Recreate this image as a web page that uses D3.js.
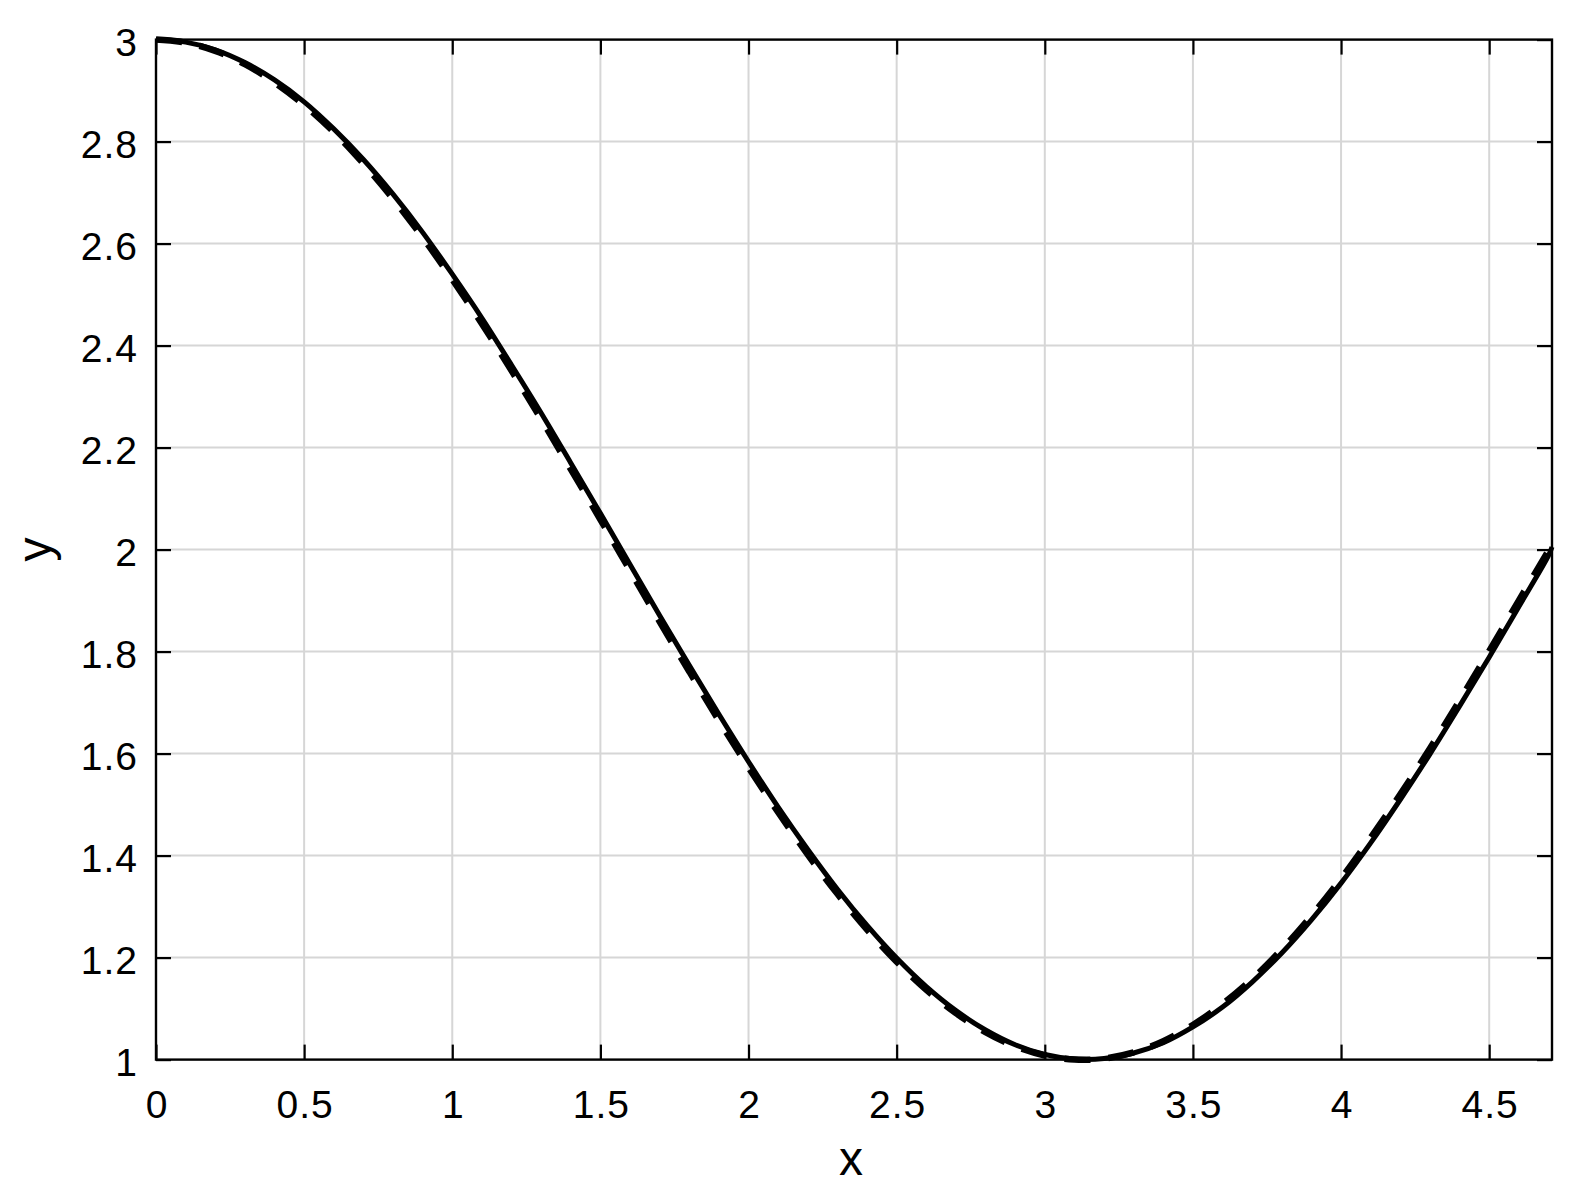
<!DOCTYPE html>
<html>
<head>
<meta charset="utf-8">
<script src="https://cdn.jsdelivr.net/npm/d3@7"></script>
<style>
  html, body { margin: 0; padding: 0; background: #fff; }
  svg { display: block; }
  text { font-family: "Liberation Sans", Arial, Helvetica, sans-serif; fill: #000; }
</style>
</head>
<body>
<svg id="chart" width="1572" height="1196"></svg>
<script>
// ---- data ----
const xValues = [0, 0.1, 0.2, 0.3, 0.4, 0.5, 0.6, 0.7, 0.8, 0.9,
  1.0, 1.1, 1.2, 1.3, 1.4, 1.5, 1.6, 1.7, 1.8, 1.9,
  2.0, 2.1, 2.2, 2.3, 2.4, 2.5, 2.6, 2.7, 2.8, 2.9,
  3.0, 3.1, 3.2, 3.3, 3.4, 3.5, 3.6, 3.7, 3.8, 3.9,
  4.0, 4.1, 4.2, 4.3, 4.4, 4.5, 4.6, 4.7, 4.712];

const solidY = [3.000, 2.995, 2.980, 2.955, 2.921, 2.878, 2.825, 2.765, 2.697, 2.622,
  2.540, 2.454, 2.362, 2.268, 2.170, 2.071, 1.971, 1.871, 1.773, 1.677,
  1.584, 1.495, 1.412, 1.334, 1.263, 1.199, 1.143, 1.096, 1.058, 1.029,
  1.010, 1.001, 1.002, 1.013, 1.033, 1.064, 1.103, 1.152, 1.209, 1.274,
  1.346, 1.425, 1.510, 1.599, 1.693, 1.789, 1.888, 1.988, 2.005];

const dashedY = [3.000, 2.994, 2.978, 2.952, 2.916, 2.872, 2.819, 2.757, 2.688, 2.612,
  2.530, 2.443, 2.351, 2.256, 2.158, 2.059, 1.959, 1.859, 1.761, 1.665,
  1.573, 1.485, 1.402, 1.325, 1.255, 1.192, 1.137, 1.091, 1.054, 1.026,
  1.008, 1.000, 1.002, 1.014, 1.036, 1.068, 1.109, 1.158, 1.216, 1.282,
  1.355, 1.435, 1.520, 1.610, 1.704, 1.801, 1.900, 1.998, 2.010];

const xTicks = [0, 0.5, 1, 1.5, 2, 2.5, 3, 3.5, 4, 4.5];
const yTicks = [1, 1.2, 1.4, 1.6, 1.8, 2, 2.2, 2.4, 2.6, 2.8, 3];
const xDomain = [0, 4.712];
const yDomain = [1, 3];
const xLabel = "x";
const yLabel = "y";

// ---- layout ----
const pLeft = 156, pRight = 1552, pTop = 39.6, pBottom = 1059.6;
const svg = d3.select("#chart");

const x = d3.scaleLinear().domain(xDomain).range([pLeft, pRight]);
const y = d3.scaleLinear().domain(yDomain).range([pBottom, pTop]);

const fmt = d => String(+d.toFixed(1));

// grid
const grid = svg.append("g");
grid.selectAll("line.vx").data(xTicks.filter(d => d > xDomain[0])).join("line")
  .attr("x1", d => x(d)).attr("x2", d => x(d))
  .attr("y1", pTop).attr("y2", pBottom)
  .attr("stroke", "#d6d6d6").attr("stroke-width", 2);
grid.selectAll("line.hy").data(yTicks.filter(d => d > yDomain[0] && d < yDomain[1])).join("line")
  .attr("y1", d => y(d)).attr("y2", d => y(d))
  .attr("x1", pLeft).attr("x2", pRight)
  .attr("stroke", "#d6d6d6").attr("stroke-width", 2);

// axes with inward ticks (all four sides)
const tickLen = 15;
const axB = svg.append("g").attr("transform", `translate(0,${pBottom})`)
  .call(d3.axisBottom(x).tickValues(xTicks).tickFormat(fmt).tickSizeInner(-tickLen).tickSizeOuter(0).tickPadding(30));
const axT = svg.append("g").attr("transform", `translate(0,${pTop})`)
  .call(d3.axisTop(x).tickValues(xTicks).tickFormat("").tickSizeInner(-tickLen).tickSizeOuter(0));
const axL = svg.append("g").attr("transform", `translate(${pLeft},0)`)
  .call(d3.axisLeft(y).tickValues(yTicks).tickFormat(fmt).tickSizeInner(-tickLen).tickSizeOuter(0).tickPadding(19));
const axR = svg.append("g").attr("transform", `translate(${pRight},0)`)
  .call(d3.axisRight(y).tickValues(yTicks).tickFormat("").tickSizeInner(-tickLen).tickSizeOuter(0));

[axB, axT, axL, axR].forEach(g => {
  g.select(".domain").remove();
  g.selectAll(".tick line").attr("stroke", "#000").attr("stroke-width", 2.2);
  g.selectAll(".tick text").attr("font-size", 39).attr("font-family", "Liberation Sans, Arial, sans-serif")
    .attr("fill", "#000").style("letter-spacing", "1px");
});
axB.selectAll(".tick text").attr("dy", null).attr("y", 0)
  .attr("transform", "translate(0.5,58)");
axL.selectAll(".tick text").attr("dy", "0.32em").attr("transform", "translate(1,3.5)");

// frame
svg.append("rect").attr("x", pLeft).attr("y", pTop)
  .attr("width", pRight - pLeft).attr("height", pBottom - pTop)
  .attr("fill", "none").attr("stroke", "#000").attr("stroke-width", 2.4);

// lines
const pts = ys => xValues.map((xv, i) => [xv, ys[i]]);
const line = d3.line().x(d => x(d[0])).y(d => y(d[1])).curve(d3.curveCatmullRom);

svg.append("path").attr("d", line(pts(dashedY)))
  .attr("fill", "none").attr("stroke", "#000").attr("stroke-width", 6.5)
  .attr("stroke-dasharray", "26,18");
svg.append("path").attr("d", line(pts(solidY)))
  .attr("fill", "none").attr("stroke", "#000").attr("stroke-width", 5)
  .attr("stroke-linejoin", "round");

// axis labels
svg.append("text").attr("x", (pLeft + pRight) / 2 - 3).attr("y", 1175)
  .attr("text-anchor", "middle").attr("font-size", 48).text(xLabel);
svg.append("text").attr("transform", `translate(51,${(pTop + pBottom) / 2}) rotate(-90)`)
  .attr("text-anchor", "middle").attr("font-size", 48).text(yLabel);
</script>
</body>
</html>
